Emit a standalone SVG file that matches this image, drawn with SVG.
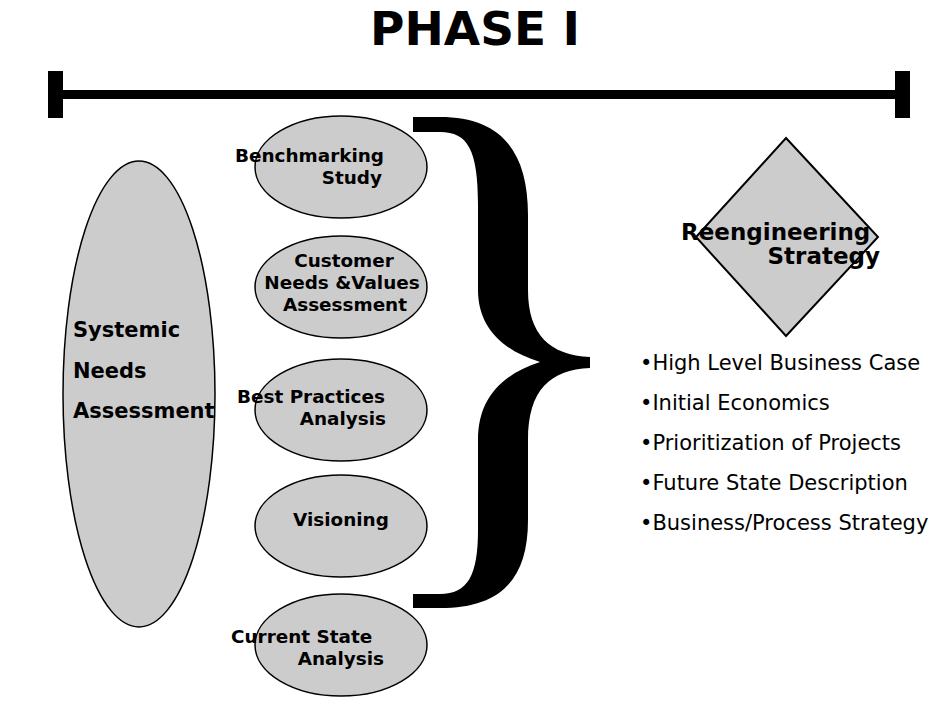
<svg xmlns="http://www.w3.org/2000/svg" width="950" height="713" viewBox="0 0 950 713">
<style>
.b{font-family:"DejaVu Sans",sans-serif;font-weight:bold;fill:#000}
.n{font-family:"DejaVu Sans",sans-serif;fill:#000;font-size:21px}
.s{font-size:18.4px}
.sh{fill:#cccccc;stroke:#000;stroke-width:1.5}
</style>
<rect width="950" height="713" fill="#fff"/>
<g id="title"><text class="b" x="475" y="45" font-size="47" text-anchor="middle">PHASE I</text></g>
<g id="timeline">
<rect x="48" y="71" width="15" height="47" fill="#000"/>
<rect x="895" y="71" width="15" height="47" fill="#000"/>
<rect x="62" y="90" width="834" height="9" fill="#000"/>
</g>
<g id="systemic">
<ellipse class="sh" cx="139" cy="394" rx="76" ry="233"/>
<text class="b" font-size="21" x="73" y="337">Systemic</text>
<text class="b" font-size="21" x="73" y="378">Needs</text>
<text class="b" font-size="21" x="73" y="418">Assessment</text>
</g>
<g id="benchmarking">
<ellipse class="sh" cx="341" cy="167" rx="86" ry="51"/>
<text class="b s" x="235" y="162">Benchmarking</text>
<text class="b s" x="382" y="184" text-anchor="end">Study</text>
</g>
<g id="customer">
<ellipse class="sh" cx="341" cy="287" rx="86" ry="51"/>
<text class="b s" x="344" y="267" text-anchor="middle">Customer</text>
<text class="b s" x="342" y="289" text-anchor="middle">Needs &amp;Values</text>
<text class="b s" x="345" y="311" text-anchor="middle">Assessment</text>
</g>
<g id="bestpractices">
<ellipse class="sh" cx="341" cy="410" rx="86" ry="51"/>
<text class="b s" x="237" y="403">Best Practices</text>
<text class="b s" x="386" y="425" text-anchor="end">Analysis</text>
</g>
<g id="visioning">
<ellipse class="sh" cx="341" cy="526" rx="86" ry="51"/>
<text class="b s" x="341" y="526" text-anchor="middle">Visioning</text>
</g>
<g id="currentstate">
<ellipse class="sh" cx="341" cy="645" rx="86" ry="51"/>
<text class="b s" x="231" y="643">Current State</text>
<text class="b s" x="384" y="665" text-anchor="end">Analysis</text>
</g>
<g id="connectors">
<path fill="#000" d="M413,117 L440,117 C500,117 528,150 528,215 L528,290 C528,335 550,355 590,357 L590,368 C550,370 528,390 528,440 L528,520 C528,580 500,608 440,608 L413,608 L413,594 L440,594 C468,594 478,575 478,530 L478,440 C478,400 500,375 540,362 C500,350 478,325 478,290 L478,205 C478,150 468,132 440,132 L413,132 Z"/>
</g>
<g id="strategy">
<polygon class="sh" style="stroke-width:2" points="786,138 878,237 786,336 696,237"/>
<text class="b" font-size="23" x="681" y="240">Reengineering</text>
<text class="b" font-size="23" x="880" y="264" text-anchor="end">Strategy</text>
</g>
<g id="bullets">
<text class="n" x="640" y="370">•High Level Business Case</text>
<text class="n" x="640" y="410">•Initial Economics</text>
<text class="n" x="640" y="450">•Prioritization of Projects</text>
<text class="n" x="640" y="490">•Future State Description</text>
<text class="n" x="640" y="530">•Business/Process Strategy</text>
</g>
</svg>
